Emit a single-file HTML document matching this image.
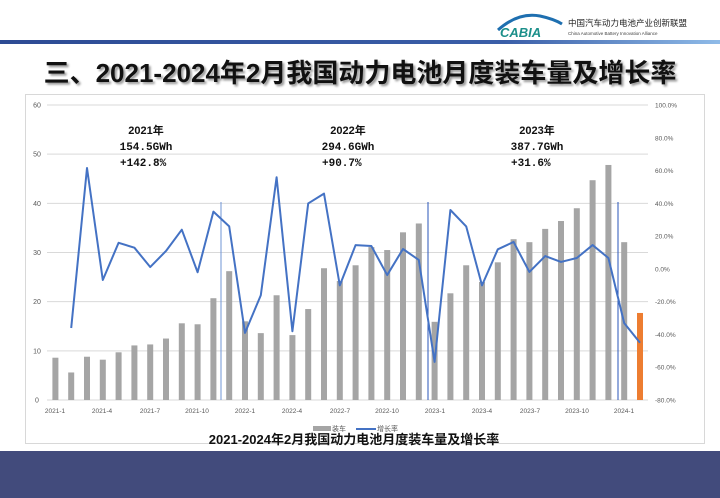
<!DOCTYPE html>
<html><head><meta charset="utf-8">
<style>
html,body{margin:0;padding:0;}
body{width:720px;height:498px;position:relative;background:#fff;overflow:hidden;font-family:"Liberation Sans","Noto Sans CJK SC",sans-serif;}
.hdr{position:absolute;left:0;top:40px;width:720px;height:4px;background:linear-gradient(90deg,#2d4b94 0%,#3a5ea8 70%,#8fbbe8 100%);}
.title{position:absolute;left:0;width:720px;top:53px;text-align:center;font-size:26px;font-weight:bold;color:#111;text-shadow:2px 2px 2px #999;font-family:"Liberation Sans","Noto Sans CJK SC",sans-serif;}
.band{position:absolute;left:0;top:451px;width:720px;height:47px;background:#424b7c;}
.box{position:absolute;left:25px;top:94px;width:680px;height:350px;border:1px solid #d8d8d8;box-sizing:border-box;}
</style></head><body>
<div class="hdr"></div>
<svg style="position:absolute;left:488px;top:10px" width="232" height="30">
<path d="M10 20 Q30 2 52 6 Q66 9 74 14" fill="none" stroke="#1e6fb0" stroke-width="3"/>
<text x="12" y="27" font-size="13" font-style="italic" font-weight="bold" fill="#1b8f8a" font-family="Liberation Sans">CABIA</text>
<text x="80" y="16" font-size="8.5" fill="#222" font-family="Liberation Sans,Noto Sans CJK SC,sans-serif">中国汽车动力电池产业创新联盟</text>
<text x="80" y="25" font-size="4.5" fill="#444" font-family="Liberation Sans">China Automotive Battery Innovation Alliance</text>
</svg>
<div class="title">三、2021-2024年2月我国动力电池月度装车量及增长率</div>
<div class="box"></div>
<svg id="c" style="position:absolute;left:0;top:0" width="720" height="498"></svg>
<div class="band"></div>
<script>
var bars=[8.6,5.6,8.8,8.2,9.7,11.1,11.3,12.5,15.6,15.4,20.7,26.2,16.0,13.6,21.3,13.2,18.5,26.8,24.2,27.4,31.1,30.5,34.1,35.9,15.9,21.7,27.4,24.0,28.0,32.7,32.1,34.8,36.4,39.0,44.7,47.8,32.1,17.7];
var gr=[null,-36,61.6,-6.7,16,13,1.2,11,24,-2,35,26,-39,-16,56,-38,40,46,-10,14.6,14,-3.7,12.2,5.5,-56.7,36,26,-10,12,16.5,-1.8,7.9,4.3,6.7,14.6,6.7,-33,-45];
var s='';var y0=400,k=4.917;
function X(i){return 55.4+15.8*i;}
for(var v=0;v<=60;v+=10){var y=y0-v*k;s+='<line x1="47" x2="648" y1="'+y+'" y2="'+y+'" stroke="#d9d9d9" stroke-width="1"/>';
s+='<text x="37" y="'+(y+2.5)+'" font-size="7" fill="#595959" text-anchor="middle">'+v+'</text>';}
for(var p=100,j=0;p>=-80;p-=20,j++){var y=105+j*295/9;s+='<text x="655" y="'+(y+2.5)+'" font-size="6.5" fill="#595959">'+p.toFixed(1)+'%</text>';}
for(var i=0;i<bars.length;i++){var h=bars[i]*k;s+='<rect x="'+(X(i)-3)+'" y="'+(y0-h)+'" width="6" height="'+h+'" fill="'+(i==37?'#ed7d31':'#a5a5a5')+'"/>';}
s+='<line x1="221" x2="221" y1="202" y2="400" stroke="#6f94d6" stroke-width="1"/>';
s+='<line x1="428" x2="428" y1="202" y2="400" stroke="#2a55b8" stroke-width="1"/>';
s+='<line x1="618" x2="618" y1="202" y2="400" stroke="#2a55b8" stroke-width="1"/>';
var pts=[];for(var i=1;i<gr.length;i++){pts.push(X(i)+','+(269-gr[i]*295/180));}
s+='<polyline points="'+pts.join(' ')+'" fill="none" stroke="#4472c4" stroke-width="2" stroke-linejoin="round"/>';
var lab=['2021-1','2021-4','2021-7','2021-10','2022-1','2022-4','2022-7','2022-10','2023-1','2023-4','2023-7','2023-10','2024-1'];
var xs=[55,102,150,197,245,292,340,387,435,482,530,577,624];
for(var m=0;m<lab.length;m++){s+='<text x="'+xs[m]+'" y="413" font-size="6.5" fill="#595959" text-anchor="middle">'+lab[m]+'</text>';}
var ann=[[146,'2021年','154.5GWh','+142.8%'],[348,'2022年','294.6GWh','+90.7%'],[537,'2023年','387.7GWh','+31.6%']];
ann.forEach(function(a){s+='<text x="'+a[0]+'" y="134" font-size="11" font-weight="bold" fill="#111" text-anchor="middle">'+a[1]+'</text>';
s+='<text x="'+a[0]+'" y="150" font-size="11" font-weight="bold" fill="#111" text-anchor="middle" font-family="Liberation Mono,monospace">'+a[2]+'</text>';
s+='<text x="'+(a[0]-26)+'" y="166" font-size="11" font-weight="bold" fill="#111" font-family="Liberation Mono,monospace">'+a[3]+'</text>';});
s+='<rect x="313" y="426" width="18" height="5" fill="#a5a5a5"/><text x="332" y="431" font-size="7" fill="#595959">装车</text>';
s+='<line x1="356" x2="376" y1="429" y2="429" stroke="#4472c4" stroke-width="2"/><text x="377" y="431" font-size="7" fill="#595959">增长率</text>';
s+='<text x="354" y="444" font-size="13" font-weight="bold" fill="#111" text-anchor="middle">2021-2024年2月我国动力电池月度装车量及增长率</text>';
document.getElementById('c').innerHTML=s;
</script>
</body></html>
